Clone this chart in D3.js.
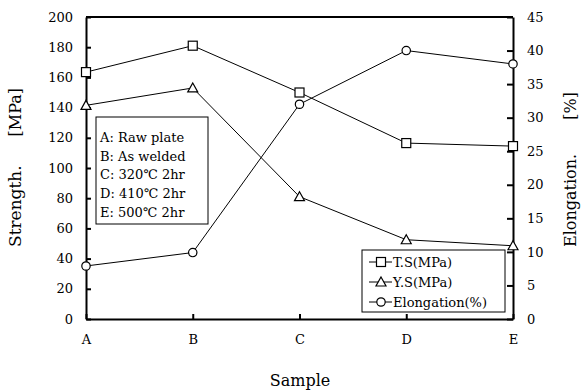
<!DOCTYPE html>
<html>
<head>
<meta charset="utf-8">
<script src="https://cdn.jsdelivr.net/npm/d3@7"></script>
<style>
  body { margin: 0; background: #fff; }
  text { font-family: "DejaVu Serif", "Liberation Serif", serif; fill: #000; }
</style>
</head>
<body>
<svg id="chart" width="581" height="392"></svg>
<script>
// values
const samples = ["A", "B", "C", "D", "E"];
const tensile = [163.5, 181, 150, 116.5, 114.5];
const yieldStr = [141.5, 153, 81, 52.5, 48.5];
const elongation = [7.9, 9.9, 32.0, 40.0, 38.0];
const leftTicks = [0, 20, 40, 60, 80, 100, 120, 140, 160, 180, 200];
const rightTicks = [0, 5, 10, 15, 20, 25, 30, 35, 40, 45];
const conditions = ["A: Raw plate", "B: As welded", "C: 320\u2103 2hr", "D: 410\u2103 2hr", "E: 500\u2103 2hr"];
const legendItems = [
  { label: "T.S(MPa)", sym: "square" },
  { label: "Y.S(MPa)", sym: "triangle" },
  { label: "Elongation(%)", sym: "circle" }
];

const margin = { top: 17, right: 68, bottom: 73, left: 86 };
const W = 581, H = 392;
const svg = d3.select("#chart");

const x = d3.scalePoint().domain(samples).range([margin.left, W - margin.right]).padding(0);
const yL = d3.scaleLinear().domain([0, 200]).range([H - margin.bottom, margin.top]);
const yR = d3.scaleLinear().domain([0, 45]).range([H - margin.bottom, margin.top]);

// top frame line
svg.append("line")
  .attr("x1", margin.left).attr("x2", W - margin.right)
  .attr("y1", margin.top).attr("y2", margin.top)
  .attr("stroke", "#000").attr("stroke-width", 2);

// axes
const gx = svg.append("g")
  .attr("transform", `translate(0,${H - margin.bottom})`)
  .call(d3.axisBottom(x).tickSizeInner(-5).tickSizeOuter(0).tickPadding(16));
const gl = svg.append("g")
  .attr("transform", `translate(${margin.left},0)`)
  .call(d3.axisLeft(yL).tickValues(leftTicks).tickSizeInner(-5).tickSizeOuter(0).tickPadding(13));
const gr = svg.append("g")
  .attr("transform", `translate(${W - margin.right},0)`)
  .call(d3.axisRight(yR).tickValues(rightTicks).tickSizeInner(-6).tickSizeOuter(0).tickPadding(14));

[gx, gl, gr].forEach(g => {
  g.select(".domain").attr("stroke", "#000").attr("stroke-width", 2);
  g.selectAll(".tick line").attr("stroke", "#000").attr("stroke-width", 2);
  g.selectAll(".tick text").attr("font-size", 13).attr("font-family", "DejaVu Serif").attr("fill", "#000");
});

// axis titles (wide gap before the unit, as in the original)
svg.append("text")
  .attr("transform", `translate(21,247) rotate(-90)`)
  .attr("font-size", 17).text("Strength.");
svg.append("text")
  .attr("transform", `translate(21,88) rotate(-90)`)
  .attr("text-anchor", "end").attr("font-size", 16).text("[MPa]");
svg.append("text")
  .attr("transform", `translate(576,247) rotate(-90)`)
  .attr("font-size", 16).text("Elongation.");
svg.append("text")
  .attr("transform", `translate(576,92) rotate(-90)`)
  .attr("text-anchor", "end").attr("font-size", 16).text("[%]");
svg.append("text")
  .attr("x", 300).attr("y", 386)
  .attr("text-anchor", "middle").attr("font-size", 16)
  .text("Sample");

// marker helper
function marker(g, sym, cx, cy) {
  if (sym === "square") {
    g.append("rect").attr("x", cx - 4.5).attr("y", cy - 4.5).attr("width", 9).attr("height", 9)
      .attr("fill", "#fff").attr("stroke", "#000").attr("stroke-width", 1.2);
  } else if (sym === "triangle") {
    g.append("path").attr("d", `M${cx},${cy - 5}L${cx + 5},${cy + 4}L${cx - 5},${cy + 4}Z`)
      .attr("fill", "#fff").attr("stroke", "#000").attr("stroke-width", 1.2);
  } else {
    g.append("circle").attr("cx", cx).attr("cy", cy).attr("r", 4.2)
      .attr("fill", "#fff").attr("stroke", "#000").attr("stroke-width", 1.2);
  }
}

const series = [
  { values: tensile, y: yL, sym: "square" },
  { values: yieldStr, y: yL, sym: "triangle" },
  { values: elongation, y: yR, sym: "circle" }
];

const line = d3.line();
series.forEach(s => {
  const pts = samples.map((k, i) => [x(k), s.y(s.values[i])]);
  svg.append("path").attr("d", line(pts))
    .attr("fill", "none").attr("stroke", "#000").attr("stroke-width", 1);
});
series.forEach(s => {
  const g = svg.append("g");
  samples.forEach((k, i) => marker(g, s.sym, x(k), s.y(s.values[i])));
});

// sample condition box
const cb = svg.append("g");
cb.append("rect").attr("x", 96).attr("y", 117).attr("width", 112).attr("height", 107)
  .attr("fill", "#fff").attr("stroke", "#000").attr("stroke-width", 1);
conditions.forEach((t, i) => {
  cb.append("text").attr("x", 100).attr("y", 142 + i * 18.7)
    .attr("font-size", 13).text(t);
});

// legend
const lg = svg.append("g");
lg.append("rect").attr("x", 362).attr("y", 250).attr("width", 143).attr("height", 62)
  .attr("fill", "#fff").attr("stroke", "#000").attr("stroke-width", 1);
legendItems.forEach((d, i) => {
  const cy = 262 + i * 20;
  lg.append("line").attr("x1", 369).attr("x2", 392).attr("y1", cy).attr("y2", cy)
    .attr("stroke", "#000").attr("stroke-width", 1);
  marker(lg, d.sym, 381, cy);
  lg.append("text").attr("x", 393).attr("y", cy + 5).attr("font-size", 13).text(d.label);
});
</script>
</body>
</html>
